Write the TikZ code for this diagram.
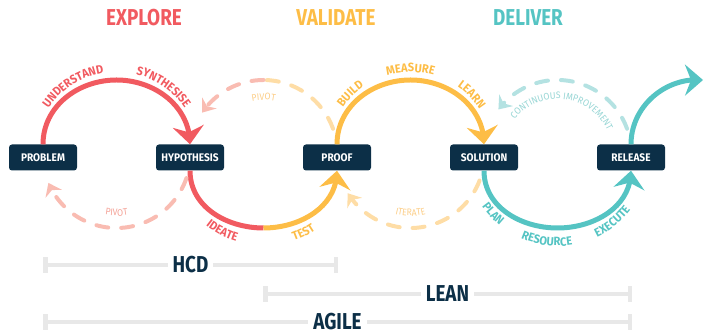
\documentclass[tikz,border=0pt]{standalone}
\usepackage{fontspec}
\newfontfamily\condfont[FakeStretch=0.82]{Fira Sans}
\newfontfamily\labelfont[FakeStretch=0.92]{Fira Sans}
\usetikzlibrary{arrows.meta,bending,calc,decorations.text}

\definecolor{rouge}{HTML}{F15A60}
\definecolor{rougepale}{HTML}{F9BCB2}
\definecolor{rougetexte}{HTML}{F4A398}
\definecolor{jaune}{HTML}{FDBD46}
\definecolor{jaunepale}{HTML}{FEDDA6}
\definecolor{jaunetexte}{HTML}{FCCE88}
\definecolor{turquoise}{HTML}{55C4C3}
\definecolor{turquoisepale}{HTML}{B4E2E2}
\definecolor{turquoisetexte}{HTML}{98D6D5}
\definecolor{marine}{HTML}{0C2F47}
\definecolor{grisbarre}{HTML}{E8E8E8}

\tikzset{
  etape/.style={fill=marine, rounded corners=3pt, text=white, minimum width=68pt, minimum height=26pt, inner sep=0pt, font=\labelfont\bfseries\fontsize{11}{11}\selectfont},
  plein/.style={line width=5pt},
  fleche/.style={plein, -{Stealth[length=18pt,width=31pt,inset=6pt]}},
  tirets/.style={line width=4pt, line cap=round, dash pattern=on 12pt off 13pt},
  retour/.style={tirets, -{Stealth[length=12pt,width=18pt,inset=4pt]}},
  titre/.style={font=\condfont\bfseries\fontsize{23}{23}\selectfont},
  methode/.style={font=\condfont\bfseries\fontsize{23}{23}\selectfont, text=marine, fill=white, inner xsep=5pt, inner ysep=0pt},
  barre/.style={draw=grisbarre, line width=4.5pt, {Bar[width=16pt]}-{Bar[width=16pt]}},
  etiq/.style 2 args={decorate, decoration={text along path, text color=#1, text align=center, text={|\labelfont\bfseries\fontsize{12}{12}\selectfont|#2}}},
  petite/.style 2 args={decorate, decoration={text along path, text color=#1, text align=center, text={|\labelfont\fontsize{9.5}{9.5}\selectfont|#2}}},
}

\begin{document}
\begin{tikzpicture}[x=1pt,y=1pt]
\useasboundingbox (0,0) rectangle (704,331);

% les titres des trois phases
\node[titre, text=rouge] (explore) at (144,313) {EXPLORE};
\node[titre, text=jaune] (validate) at (336,313) {VALIDATE};
\node[titre, text=turquoise] (deliver) at (528,313) {DELIVER};

% les centres des cercles et leurs points haut / bas
\coordinate (c1) at (116.5,177);
\coordinate (c2) at (263.5,177);
\coordinate (c3) at (410.5,177);
\coordinate (c4) at (557.5,177);
\coordinate (t1) at (116.5,251); \coordinate (b2) at (263.5,103);
\coordinate (t3) at (410.5,251); \coordinate (b4) at (557.5,103);
\coordinate (t2) at (263.5,251);
\coordinate (sortie) at (703,251);

% les etapes
\node[etape] (problem) at (43,173.5) {PROBLEM};
\node[etape] (hypothesis) at (190,173.5) {HYPOTHESIS};
\node[etape] (proof) at (337,173.5) {PROOF};
\node[etape] (solution) at (484,173.5) {SOLUTION};
\node[etape] (release) at (631,173.5) {RELEASE};

% les fleches pleines
\draw[fleche, rouge] (problem) to[out=90,in=180] (t1) to[out=0,in=90] (hypothesis);
\draw[plein, rouge] (hypothesis) to[out=-90,in=180] (b2);
\draw[fleche, jaune] (b2) to[out=0,in=-90] (proof);
\draw[fleche, jaune] (proof) to[out=90,in=180] (t3) to[out=0,in=90] (solution);
\draw[fleche, turquoise] (solution) to[out=-90,in=180] (b4) to[out=0,in=-90] (release);
\draw[fleche, turquoise] (release) to[out=90,in=175] (sortie);

% les retours en pointilles
\coordinate (pivotA) at ($(c1)+(-19:74)$);
\coordinate (pivotB) at ($(c2)+(20:74)$);
\coordinate (iterA) at ($(c3)+(-21:74)$);
\coordinate (amelA) at ($(c4)+(20:74)$);
\draw[retour, rougepale] (pivotA) arc[start angle=-19, end angle=-157, radius=74];
\draw[tirets, jaunepale] (pivotB) arc[start angle=20, end angle=90, radius=74];
\draw[retour, rougepale] (t2) arc[start angle=90, end angle=146, radius=74];
\draw[retour, jaunepale] (iterA) arc[start angle=-21, end angle=-148, radius=74];
\draw[retour, turquoisepale] (amelA) arc[start angle=20, end angle=143, radius=74];

% les mots le long des cercles
\path[etiq={rouge}{UNDERSTAND}, shift={(c1)}] (165:82) arc[start angle=165, end angle=80, radius=82];
\path[etiq={rouge}{SYNTHESISE}, shift={(c1)}] (95:82) arc[start angle=95, end angle=15, radius=82];
\path[etiq={rouge}{IDEATE}, shift={(c2)}] (-150:92) arc[start angle=-150, end angle=-86, radius=92];
\path[etiq={jaune}{TEST}, shift={(c2)}] (-93:92) arc[start angle=-93, end angle=-33, radius=92];
\path[etiq={jaune}{BUILD}, shift={(c3)}] (165:82) arc[start angle=165, end angle=105, radius=82];
\path[etiq={jaune}{MEASURE}, shift={(c3)}] (125:82) arc[start angle=125, end angle=55, radius=82];
\path[etiq={jaune}{LEARN}, shift={(c3)}] (75:82) arc[start angle=75, end angle=13, radius=82];
\path[etiq={turquoise}{PLAN}, shift={(c4)}] (-167:92) arc[start angle=-167, end angle=-107, radius=92];
\path[etiq={turquoise}{RESOURCE}, shift={(c4)}] (-137:92) arc[start angle=-137, end angle=-57, radius=92];
\path[etiq={turquoise}{EXECUTE}, shift={(c4)}] (-86:92) arc[start angle=-86, end angle=-16, radius=92];
\path[petite={rougetexte}{PIVOT}, shift={(c1)}] (-125:62) arc[start angle=-125, end angle=-55, radius=62];
\path[petite={jaunetexte}{PIVOT}, shift={(c2)}] (125:54) arc[start angle=125, end angle=55, radius=54];
\path[petite={jaunetexte}{ITERATE}, shift={(c3)}] (-125:62) arc[start angle=-125, end angle=-55, radius=62];
\path[petite={turquoisetexte}{CONTINUOUS IMPROVEMENT}, shift={(c4)}] (152:55) arc[start angle=152, end angle=14, radius=55];

% les barres des methodes
\coordinate (hcdA) at (43,66);    \coordinate (hcdB) at (338,66);
\coordinate (leanA) at (263,37);  \coordinate (leanB) at (632,37);
\coordinate (agileA) at (43,9);   \coordinate (agileB) at (632,9);
\draw[barre] (hcdA) -- node[methode] (hcd) {HCD} (hcdB);
\draw[barre] (leanA) -- node[methode] (lean) {LEAN} (leanB);
\draw[barre] (agileA) -- node[methode] (agile) {AGILE} (agileB);
\end{tikzpicture}
\end{document}
